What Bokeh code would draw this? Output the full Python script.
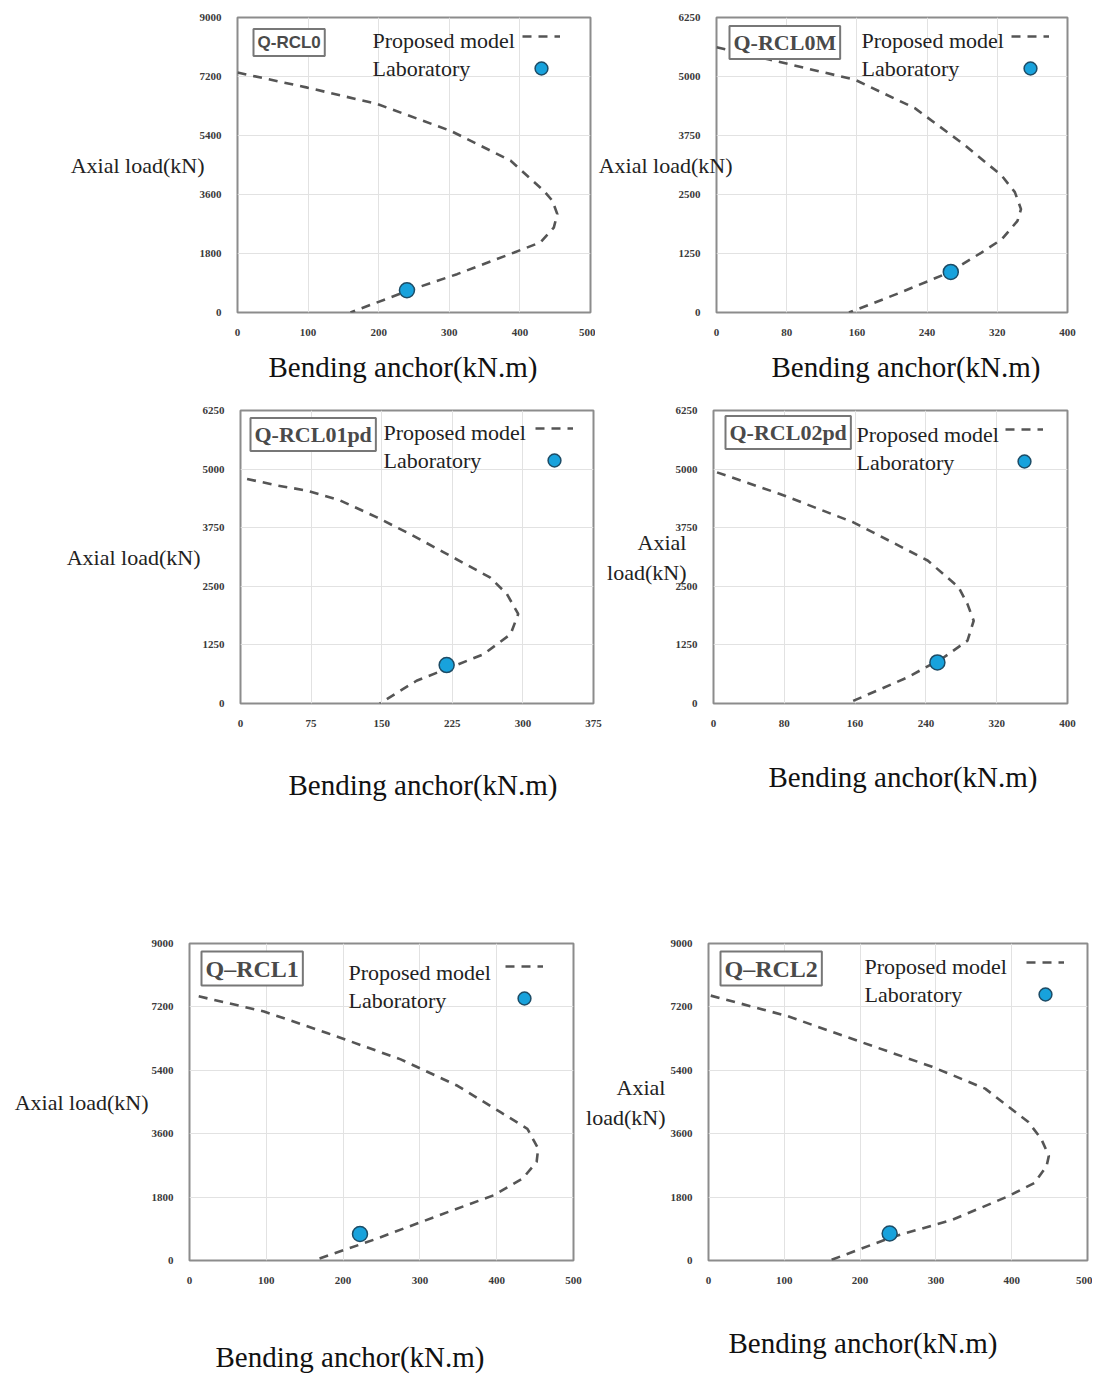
from bokeh.plotting import figure
from bokeh.models import Range1d, FixedTicker, Label, Legend, LegendItem, Title
from bokeh.layouts import column, row
from bokeh.core.properties import value
from bokeh.embed import file_html
from bokeh.resources import INLINE

# ---------------- data ----------------
panel_names = ["Q-RCL0", "Q-RCL0M", "Q-RCL01pd", "Q-RCL02pd", "Q\u2013RCL1", "Q\u2013RCL2"]
x_title = "Bending anchor(kN.m)"
y_title = "Axial load(kN)"
y_title_wrapped = "Axial\nload(kN)"
legend_model = "Proposed model"
legend_lab = "Laboratory"

ticks_x_500 = [0, 100, 200, 300, 400, 500]
ticks_x_400 = [0, 80, 160, 240, 320, 400]
ticks_x_375 = [0, 75, 150, 225, 300, 375]
ticks_y_9000 = [0, 1800, 3600, 5400, 7200, 9000]
ticks_y_6250 = [0, 1250, 2500, 3750, 5000, 6250]

rcl0_moment = [0, 99, 198, 302, 387, 434, 446, 453, 448, 429, 392, 311, 241, 160]
rcl0_axial = [7320, 6860, 6360, 5540, 4630, 3710, 3410, 3000, 2590, 2140, 1830, 1170, 660, 0]
rcl0_lab_moment = [240]
rcl0_lab_axial = [680]

rcl0m_moment = [0, 60, 158, 226, 283, 325, 340, 347, 343, 325, 302, 264, 208, 151]
rcl0m_axial = [5620, 5360, 4930, 4330, 3545, 2900, 2550, 2190, 1940, 1550, 1270, 840, 410, 0]
rcl0m_lab_moment = [267]
rcl0m_lab_axial = [860]

rcl01pd_moment = [7, 39, 71, 106, 145, 180, 216, 265, 283, 295, 287, 258, 223, 187, 148]
rcl01pd_axial = [4790, 4650, 4540, 4330, 3970, 3615, 3225, 2690, 2335, 1910, 1480, 1050, 770, 485, 0]
rcl01pd_lab_moment = [219]
rcl01pd_lab_axial = [820]

rcl02pd_moment = [4, 75, 158, 242, 277, 287, 294, 287, 260, 219, 151]
rcl02pd_axial = [4930, 4470, 3865, 3050, 2480, 2120, 1765, 1340, 980, 555, 0]
rcl02pd_lab_moment = [253]
rcl02pd_lab_axial = [876]

rcl1_moment = [12, 97, 179, 275, 349, 405, 440, 454, 452, 434, 397, 327, 240, 162]
rcl1_axial = [7500, 7070, 6460, 5710, 4960, 4210, 3740, 3175, 2800, 2330, 1860, 1300, 590, 0]
rcl1_lab_moment = [222]
rcl1_lab_axial = [752]

rcl2_moment = [3, 104, 199, 295, 365, 422, 439, 449, 446, 430, 395, 321, 243, 160]
rcl2_axial = [7520, 6940, 6220, 5500, 4880, 3930, 3450, 2970, 2680, 2200, 1820, 1150, 670, 0]
rcl2_lab_moment = [239]
rcl2_lab_axial = [766]

# ---------------- layout (page pixel geometry) ----------------
SERIF = "Liberation Serif"
SANS = "Liberation Sans"
TITLE_PROPS = Title.properties()
HAS_PADDING = "padding" in TITLE_PROPS
HAS_STANDOFF = "standoff" in TITLE_PROPS

panels = [
    dict(name=panel_names[0], mx=rcl0_moment, ny=rcl0_axial, lx=rcl0_lab_moment, ly=rcl0_lab_axial,
         xt=ticks_x_500, yt=ticks_y_9000,
         fig=(0, 0, 595, 395), frame=(237, 17, 590, 312),
         ylab=y_title, ystand=-8, xlab_left=268, xgap=10,
         title=(253, 42), title_font=SANS, title_size="17px",
         leg_text=(372, 40, 68), leg_glyph=(522, 28)),
    dict(name=panel_names[1], mx=rcl0m_moment, ny=rcl0m_axial, lx=rcl0m_lab_moment, ly=rcl0m_lab_axial,
         xt=ticks_x_400, yt=ticks_y_6250,
         fig=(595, 0, 497, 395), frame=(713, 17, 1067, 312),
         ylab=y_title, ystand=-57, xlab_left=768, xgap=10,
         title=(726, 42), title_font=SERIF, title_size="22px",
         leg_text=(858, 40, 68), leg_glyph=(1008, 28)),
    dict(name=panel_names[2], mx=rcl01pd_moment, ny=rcl01pd_axial, lx=rcl01pd_lab_moment, ly=rcl01pd_lab_axial,
         xt=ticks_x_375, yt=ticks_y_6250,
         fig=(0, 395, 604, 415), frame=(240, 410, 593, 703),
         ylab=y_title, ystand=-1, xlab_left=288, xgap=37,
         title=(250, 434), title_font=SERIF, title_size="22px",
         leg_text=(383, 432, 460), leg_glyph=(535, 420)),
    dict(name=panel_names[3], mx=rcl02pd_moment, ny=rcl02pd_axial, lx=rcl02pd_lab_moment, ly=rcl02pd_lab_axial,
         xt=ticks_x_400, yt=ticks_y_6250,
         fig=(604, 395, 488, 415), frame=(713, 410, 1067, 703),
         ylab=y_title_wrapped, ystand=-14, xlab_left=768, xgap=29,
         title=(725, 432), title_font=SERIF, title_size="22px",
         leg_text=(856, 434, 462), leg_glyph=(1005, 421)),
    dict(name=panel_names[4], mx=rcl1_moment, ny=rcl1_axial, lx=rcl1_lab_moment, ly=rcl1_lab_axial,
         xt=ticks_x_500, yt=ticks_y_9000,
         fig=(0, 810, 583, 566), frame=(189, 943, 573, 1260),
         ylab=y_title, ystand=0, xlab_left=215, xgap=52,
         title=(201, 968), title_font=SERIF, title_size="24px",
         leg_text=(348, 972, 1000), leg_glyph=(505, 958)),
    dict(name=panel_names[5], mx=rcl2_moment, ny=rcl2_axial, lx=rcl2_lab_moment, ly=rcl2_lab_axial,
         xt=ticks_x_500, yt=ticks_y_9000,
         fig=(583, 810, 509, 566), frame=(704, 943, 1087, 1260),
         ylab=y_title_wrapped, ystand=2, xlab_left=724, xgap=38,
         title=(716, 968), title_font=SERIF, title_size="24px",
         leg_text=(860, 966, 994), leg_glyph=(1022, 954)),
]


def make_panel(c):
    fl, ft, fw, fh = c["fig"]
    l, t, r, b = c["frame"]
    p = figure(width=fw, height=fh, output_backend="svg", toolbar_location=None,
               x_range=Range1d(c["xt"][0], c["xt"][-1]), y_range=Range1d(c["yt"][0], c["yt"][-1]))
    p.min_border_left = l - fl
    p.min_border_right = fl + fw - r
    p.min_border_top = t - ft
    p.min_border_bottom = ft + fh - b
    p.background_fill_color = "white"
    p.border_fill_color = "white"
    p.outline_line_color = "#8c8c8c"
    p.outline_line_width = 2

    for ax, ticks in ((p.xaxis, c["xt"]), (p.yaxis, c["yt"])):
        ax.ticker = FixedTicker(ticks=ticks)
        ax.axis_line_color = None
        ax.major_tick_line_color = None
        ax.minor_tick_line_color = None
        ax.major_label_text_font = SERIF
        ax.major_label_text_font_style = "bold"
        ax.major_label_text_font_size = "11px"
        ax.major_label_text_color = "#3a3a3a"
        ax.major_label_standoff = 10
        ax.axis_label_text_font = SERIF
        ax.axis_label_text_font_style = "normal"

    p.yaxis.axis_label = c["ylab"]
    p.yaxis.axis_label_orientation = "horizontal"
    p.yaxis.axis_label_text_font_size = "22px"
    p.yaxis.axis_label_text_color = "#222222"
    p.yaxis.axis_label_standoff = c["ystand"]

    # x-axis title as a Title in the bottom side panel, left aligned at its reference position
    tkw = dict(text=x_title, align="left", vertical_align="bottom", offset=c["xlab_left"] - l,
               text_font=SERIF, text_font_size="29px", text_font_style="normal", text_color="#111111")
    if HAS_PADDING:
        # (left, right, top, bottom): a top padding opens the gap below the tick labels
        tkw["padding"] = (0, 0, c["xgap"], 0)
        if HAS_STANDOFF:
            tkw["standoff"] = 0
    elif HAS_STANDOFF:
        tkw["standoff"] = 2 * c["xgap"]
    p.add_layout(Title(**tkw), "below")

    p.grid.grid_line_color = "#e2e2e2"
    p.grid.grid_line_width = 1

    line_r = p.line(c["mx"], c["ny"], line_color="#555555", line_width=2.6, line_dash="9 7")
    dot_r = p.scatter(c["lx"], c["ly"], size=15, fill_color="#18a2dc", line_color="#1d4c66", line_width=1.5)

    def sx(px):
        return px - l

    def sy(py):
        return b - py

    p.add_layout(Label(x=sx(c["title"][0]), y=sy(c["title"][1]), x_units="screen", y_units="screen",
                       text=c["name"], text_font=c["title_font"], text_font_size=c["title_size"],
                       text_font_style="bold", text_color="#4a4a4a",
                       text_align="left", text_baseline="middle",
                       background_fill_color="white", border_line_color="#777777",
                       border_line_width=2, padding=4))
    lx0, ly1, ly2 = c["leg_text"]
    for txt, py in ((legend_model, ly1), (legend_lab, ly2)):
        p.add_layout(Label(x=sx(lx0), y=sy(py), x_units="screen", y_units="screen", text=txt,
                           text_font=SERIF, text_font_size="22px", text_color="#222222",
                           text_align="left", text_baseline="middle"))
    gx, gy = c["leg_glyph"]
    legend = Legend(items=[LegendItem(label=value(" "), renderers=[line_r]),
                           LegendItem(label=value(" "), renderers=[dot_r])],
                    location=(sx(gx), sy(gy + 56)), orientation="vertical",
                    glyph_width=38, glyph_height=32, spacing=-4, padding=0, margin=0,
                    label_standoff=0, label_width=0, label_height=0, label_text_font_size="1px",
                    border_line_color=None, background_fill_alpha=0)
    p.add_layout(legend)
    return p


figs = [make_panel(c) for c in panels]
layout = column(row(figs[0], figs[1]), row(figs[2], figs[3]), row(figs[4], figs[5]))

open("out.html", "w").write(file_html(layout, INLINE))
